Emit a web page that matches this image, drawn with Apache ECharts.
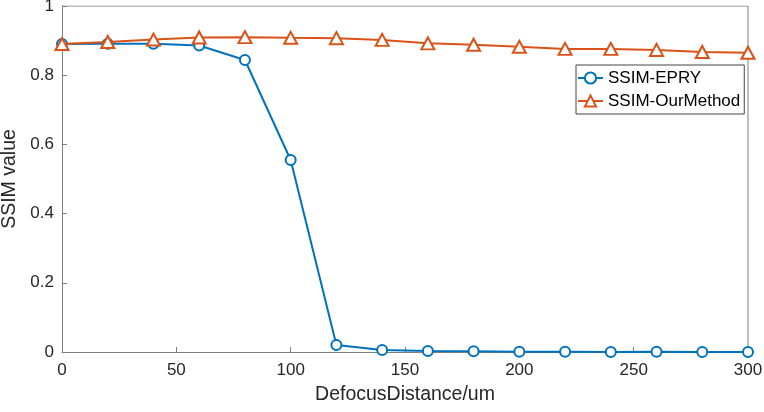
<!DOCTYPE html>
<html>
<head>
<meta charset="utf-8">
<script src="https://cdn.jsdelivr.net/npm/echarts@6/dist/echarts.min.js"></script>
<style>
  html, body { margin: 0; padding: 0; background: #fff; }
  #main { width: 764px; height: 412px; }
</style>
</head>
<body>
<div id="main"></div>
<script>
  // data
  var distance = [0, 20, 40, 60, 80, 100, 120, 140, 160, 180, 200, 220, 240, 260, 280, 300];
  var ssimEpry = [0.890, 0.891, 0.891, 0.886, 0.844, 0.555, 0.020, 0.006, 0.003, 0.002, 0.001, 0.001, 0.000, 0.001, 0.000, 0.000];
  var ssimOurs = [0.890, 0.896, 0.903, 0.909, 0.910, 0.908, 0.907, 0.902, 0.892, 0.888, 0.882, 0.876, 0.876, 0.873, 0.867, 0.865];

  var textColor = '#262626';
  var axisColor = '#7f7f7f';
  var font = 'Liberation Sans, Arial, sans-serif';

  function pairs(xs, ys) {
    return xs.map(function (x, i) { return [x, ys[i]]; });
  }

  var chart = echarts.init(document.getElementById('main'));
  chart.setOption({
    animation: false,
    textStyle: { fontFamily: font },
    grid: { left: 62, right: 16, top: 6, bottom: 60, containLabel: false, outerBoundsMode: 'none' },
    legend: {
      orient: 'vertical',
      left: 576,
      top: 65,
      padding: [3, 4, 3, 1],
      itemGap: 3,
      itemWidth: 25,
      itemHeight: 14,
      backgroundColor: '#fff',
      borderColor: '#444',
      borderWidth: 1,
      textStyle: { fontSize: 17, lineHeight: 20, color: '#000', fontFamily: font },
      data: ['SSIM-EPRY', 'SSIM-OurMethod']
    },
    xAxis: {
      type: 'value',
      min: 0, max: 300, interval: 50,
      name: 'DefocusDistance/um',
      nameLocation: 'middle',
      nameGap: 33,
      nameTextStyle: { fontSize: 19.5, color: textColor },
      axisLine: { show: true, lineStyle: { color: axisColor, width: 1 } },
      axisTick: { show: true, inside: true, length: 5, lineStyle: { color: axisColor } },
      axisLabel: { fontSize: 17, color: textColor, margin: 10 },
      splitLine: { show: false }
    },
    yAxis: {
      type: 'value',
      min: 0, max: 1, interval: 0.2,
      name: 'SSIM value',
      nameLocation: 'middle',
      nameGap: 35,
      nameTextStyle: { fontSize: 19.5, color: textColor },
      axisLine: { show: true, lineStyle: { color: axisColor, width: 1 } },
      axisTick: { show: true, inside: true, length: 5, lineStyle: { color: axisColor } },
      axisLabel: {
        fontSize: 17, color: textColor, margin: 8,
        formatter: function (v) { return String(Math.round(v * 10) / 10); }
      },
      splitLine: { show: false }
    },
    series: [
      {
        name: 'SSIM-EPRY',
        type: 'line',
        data: pairs(distance, ssimEpry),
        color: '#0072BD',
        symbol: 'emptyCircle',
        symbolSize: 10,
        lineStyle: { width: 2, color: '#0072BD' },
        itemStyle: { color: '#0072BD', borderWidth: 2 },
        z: 3
      },
      {
        name: 'SSIM-OurMethod',
        type: 'line',
        data: pairs(distance, ssimOurs),
        color: '#D95319',
        symbol: 'triangle',
        symbolSize: [13, 12],
        lineStyle: { width: 2, color: '#D95319' },
        itemStyle: { color: '#fff', borderColor: '#D95319', borderWidth: 2 },
        z: 4
      },
      {
        // top and right edges of the box
        type: 'line',
        data: [[0, 1], [300, 1], [300, 0]],
        symbol: 'none',
        silent: true,
        lineStyle: { width: 1, color: axisColor },
        z: 1
      }
    ]
  });
</script>
</body>
</html>
